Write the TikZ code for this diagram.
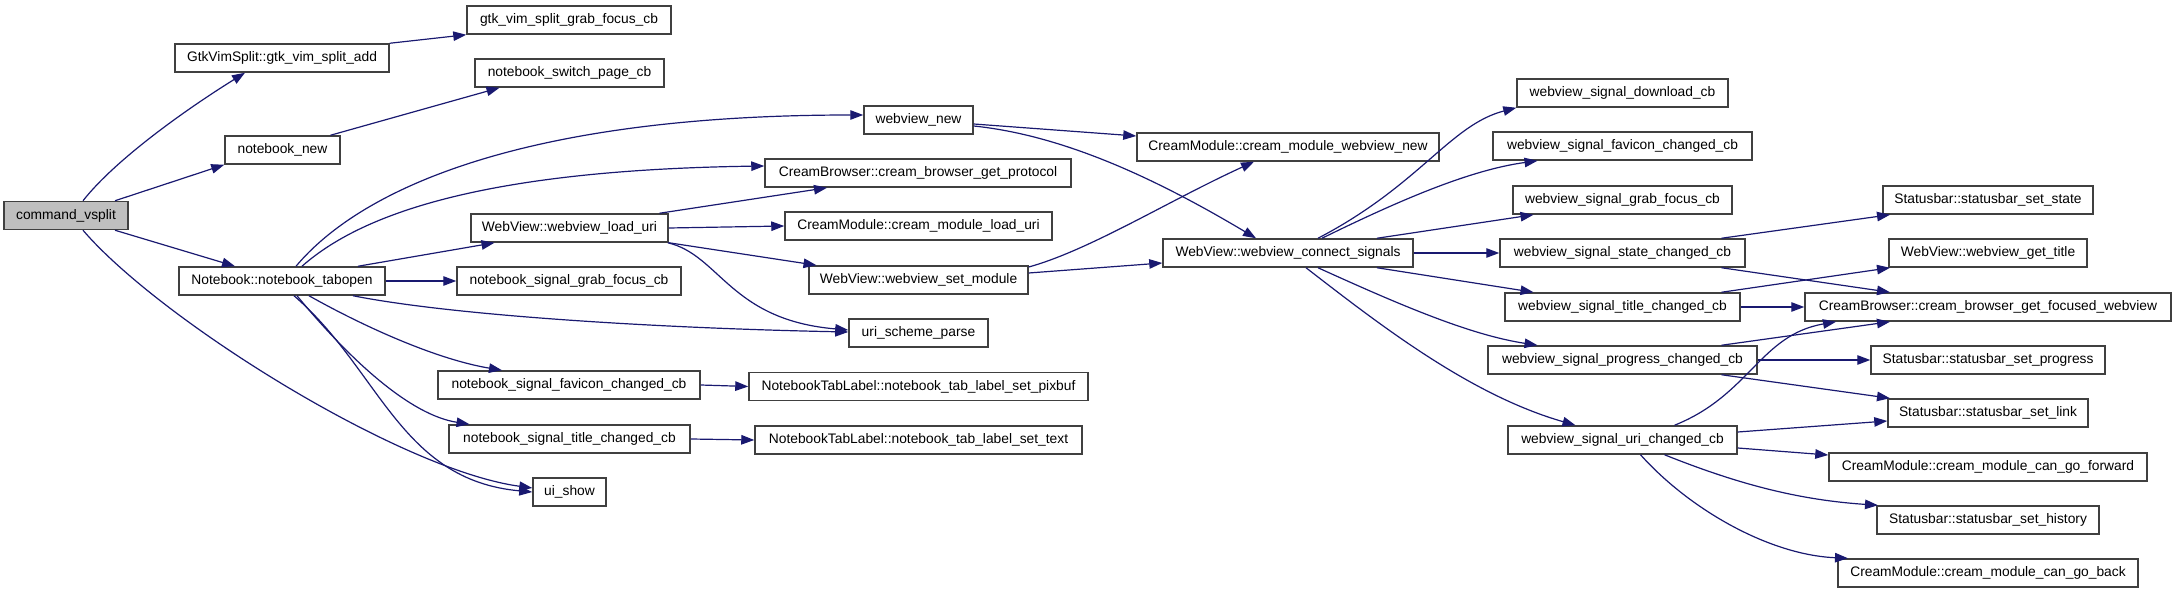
\documentclass[tikz,border=0pt]{standalone}
\usepackage{fontspec}
\setmainfont{Liberation Sans}
\usetikzlibrary{arrows.meta,calc}
\definecolor{edgec}{HTML}{191970}
\definecolor{grayfill}{HTML}{BFBFBF}
\definecolor{boxline}{HTML}{404040}
\newcommand\nodefnt{\fontsize{13.8pt}{16pt}\selectfont}
\begin{document}
\begin{tikzpicture}[x=1pt,y=-1pt,
  fn/.style={draw=boxline, line width=1.5pt, fill=white, minimum height=28pt, inner sep=0pt, font=\nodefnt, text=black},
  e/.style={draw=edgec, line width=1.2pt, -{Triangle[length=13pt,width=9.5pt]}}]
\useasboundingbox (0,0) rectangle (2176,593);
% column 1
\node[fn, fill=grayfill, minimum width=124pt] (cmd) at (66,215.5) {command\_vsplit};
% column 2
\node[fn, minimum width=214pt] (gtkadd) at (282,58) {GtkVimSplit::gtk\_vim\_split\_add};
\node[fn, minimum width=115pt] (nbnew) at (282.5,150) {notebook\_new};
\node[fn, minimum width=206pt] (tabopen) at (282,281) {Notebook::notebook\_tabopen};
% column 3
\node[fn, minimum width=204pt] (gtkgrab) at (569,20) {gtk\_vim\_split\_grab\_focus\_cb};
\node[fn, minimum width=189pt] (nbswitch) at (569.5,73) {notebook\_switch\_page\_cb};
\node[fn, minimum width=197pt] (loaduri) at (569.5,228) {WebView::webview\_load\_uri};
\node[fn, minimum width=224pt] (nbgrab) at (569,281) {notebook\_signal\_grab\_focus\_cb};
\node[fn, minimum width=262pt] (nbfav) at (569,385) {notebook\_signal\_favicon\_changed\_cb};
\node[fn, minimum width=241pt] (nbtitle) at (569.5,439) {notebook\_signal\_title\_changed\_cb};
\node[fn, minimum width=73pt] (uishow) at (569.5,492) {ui\_show};
% column 4
\node[fn, minimum width=109pt] (webnew) at (918.5,120) {webview\_new};
\node[fn, minimum width=306pt] (cbproto) at (918,173) {CreamBrowser::cream\_browser\_get\_protocol};
\node[fn, minimum width=267pt] (cmload) at (918.5,226) {CreamModule::cream\_module\_load\_uri};
\node[fn, minimum width=219pt] (setmod) at (918.5,280) {WebView::webview\_set\_module};
\node[fn, minimum width=139pt] (uriparse) at (918.5,333) {uri\_scheme\_parse};
\node[fn, minimum width=339pt] (pixbuf) at (918.5,386.5) {NotebookTabLabel::notebook\_tab\_label\_set\_pixbuf};
\node[fn, minimum width=327pt] (settext) at (918.5,440) {NotebookTabLabel::notebook\_tab\_label\_set\_text};
% column 5
\node[fn, minimum width=302pt] (cmwvnew) at (1288,147) {CreamModule::cream\_module\_webview\_new};
\node[fn, minimum width=250pt] (connect) at (1288,253) {WebView::webview\_connect\_signals};
% column 6
\node[fn, minimum width=211pt] (dl) at (1622.5,93) {webview\_signal\_download\_cb};
\node[fn, minimum width=259pt] (wfav) at (1622.5,146) {webview\_signal\_favicon\_changed\_cb};
\node[fn, minimum width=219pt] (wgrab) at (1622.5,200) {webview\_signal\_grab\_focus\_cb};
\node[fn, minimum width=245pt] (wstate) at (1622.5,253) {webview\_signal\_state\_changed\_cb};
\node[fn, minimum width=235pt] (wtitle) at (1622.5,307) {webview\_signal\_title\_changed\_cb};
\node[fn, minimum width=269pt] (wprog) at (1622.5,360) {webview\_signal\_progress\_changed\_cb};
\node[fn, minimum width=229pt] (wuri) at (1622.5,440) {webview\_signal\_uri\_changed\_cb};
% column 7
\node[fn, minimum width=210pt] (sbstate) at (1988,200) {Statusbar::statusbar\_set\_state};
\node[fn, minimum width=198pt] (gettitle) at (1988,253) {WebView::webview\_get\_title};
\node[fn, minimum width=366pt] (focused) at (1988,307) {CreamBrowser::cream\_browser\_get\_focused\_webview};
\node[fn, minimum width=234pt] (sbprog) at (1988,360) {Statusbar::statusbar\_set\_progress};
\node[fn, minimum width=200pt] (sblink) at (1988,413) {Statusbar::statusbar\_set\_link};
\node[fn, minimum width=318pt] (fwd) at (1988,467) {CreamModule::cream\_module\_can\_go\_forward};
\node[fn, minimum width=222pt] (hist) at (1988,520) {Statusbar::statusbar\_set\_history};
\node[fn, minimum width=300pt] (back) at (1988,573) {CreamModule::cream\_module\_can\_go\_back};
% edges
\draw[e] ([xshift=17pt]cmd.north) .. controls (115,160) and (185,110) .. ([xshift=-37pt]gtkadd.south);
\draw[e] ([xshift=49pt]cmd.north) -- (nbnew.south west);
\draw[e] ([xshift=49pt]cmd.south) -- ([xshift=-47pt]tabopen.north);
\draw[e] ([xshift=17pt]cmd.south) .. controls (160,320) and (400,470) .. ([yshift=4pt]uishow.west);
\draw[e] (gtkadd.north east) -- (gtkgrab.south west);
\draw[e] ([xshift=48pt]nbnew.north) -- ([xshift=-70pt]nbswitch.south);
\draw[e] ([xshift=14pt]tabopen.north) .. controls (360,190) and (520,115) .. ([yshift=5pt]webnew.west);
\draw[e] ([xshift=20pt]tabopen.north) .. controls (360,215) and (480,170) .. ([yshift=7pt]cbproto.west);
\draw[e] ([xshift=76pt]tabopen.north) -- ([xshift=-75pt]loaduri.south);
\draw[e] (tabopen.east) -- (nbgrab.west);
\draw[e] ([xshift=71pt]tabopen.south) .. controls (450,315) and (650,328) .. ([yshift=1pt]uriparse.west);
\draw[e] ([xshift=27pt]tabopen.south) .. controls (370,330) and (440,360) .. ([xshift=-67pt]nbfav.north);
\draw[e] ([xshift=15pt]tabopen.south) .. controls (350,360) and (410,415) .. ([xshift=-100pt]nbtitle.north);
\draw[e] ([xshift=12pt]tabopen.south) .. controls (380,370) and (400,480) .. (uishow.west);
\draw[e] (nbfav.east) -- (pixbuf.west);
\draw[e] (nbtitle.east) -- (settext.west);
\draw[e] ([xshift=90pt]loaduri.north) -- ([xshift=-91pt]cbproto.south);
\draw[e] (loaduri.east) -- (cmload.west);
\draw[e] (loaduri.south east) -- ([xshift=-102pt]setmod.north);
\draw[e] ([xshift=-1pt]loaduri.south east) .. controls (720,255) and (730,320) .. ([yshift=3pt]uriparse.west);
\draw[e] ([yshift=-4pt]webnew.east) -- ([yshift=11pt]cmwvnew.west);
\draw[e] ([yshift=-6pt]webnew.east) .. controls (1060,135) and (1150,175) .. ([xshift=-32pt]connect.north);
\draw[e] ([yshift=13pt]setmod.east) .. controls (1090,250) and (1170,200) .. ([xshift=-34pt]cmwvnew.south);
\draw[e] ([yshift=7pt]setmod.east) -- ([yshift=-10pt]connect.west);
\draw[e] ([xshift=30pt]connect.north) .. controls (1420,185) and (1450,125) .. (dl.south west);
\draw[e] ([xshift=34pt]connect.north) .. controls (1400,200) and (1470,170) .. ([xshift=-85pt]wfav.south);
\draw[e] ([xshift=89pt]connect.north) -- ([xshift=-89pt]wgrab.south);
\draw[e] (connect.east) -- (wstate.west);
\draw[e] ([xshift=89pt]connect.south) -- ([xshift=-89pt]wtitle.north);
\draw[e] ([xshift=30pt]connect.south) .. controls (1400,305) and (1470,335) .. ([xshift=-85pt]wprog.north);
\draw[e] ([xshift=18pt]connect.south) .. controls (1380,325) and (1470,395) .. ([xshift=-47pt]wuri.north);
\draw[e] ([xshift=99pt]wstate.north) -- ([xshift=-98pt]sbstate.south);
\draw[e] ([xshift=99pt]wstate.south) -- ([xshift=-98pt]focused.north);
\draw[e] ([xshift=99pt]wtitle.north) -- ([xshift=-98pt]gettitle.south);
\draw[e] (wtitle.east) -- (focused.west);
\draw[e] ([xshift=99pt]wprog.north) -- ([xshift=-98pt]focused.south);
\draw[e] (wprog.east) -- (sbprog.west);
\draw[e] ([xshift=99pt]wprog.south) -- ([xshift=-98pt]sblink.north);
\draw[e] ([xshift=52pt]wuri.north) .. controls (1750,395) and (1760,335) .. ([xshift=-152pt]focused.south);
\draw[e] ([yshift=8pt]wuri.east) -- ([yshift=-8pt]sblink.west);
\draw[e] ([yshift=-8pt]wuri.east) -- ([yshift=12pt]fwd.west);
\draw[e] ([xshift=42pt]wuri.south) .. controls (1740,485) and (1800,500) .. ([xshift=-110pt]hist.north);
\draw[e] ([xshift=18pt]wuri.south) .. controls (1690,510) and (1770,555) .. ([xshift=-140pt]back.north);
\end{tikzpicture}
\end{document}
